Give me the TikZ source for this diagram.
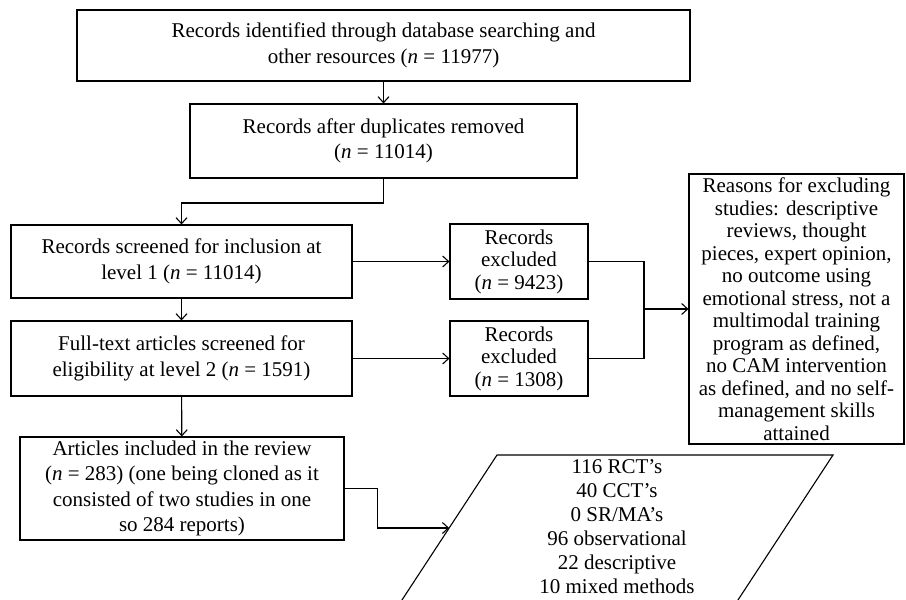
\documentclass[tikz,border=0pt]{standalone}
\usepackage{fontspec}
\setmainfont{Liberation Serif}
\usetikzlibrary{arrows.meta}

\begin{document}
\begin{tikzpicture}[x=1pt, y=-1pt,
  flowbox/.style={draw, line width=1.1pt, align=center, inner sep=0pt,
    font=\fontsize{21}{25.5}\selectfont},
  tightbox/.style={flowbox, font=\fontsize{21}{22.5}\selectfont},
  flowline/.style={line width=1.1pt, -{Straight Barb[length=6pt, width=11pt]}},
  plainline/.style={line width=1.1pt}]
  \useasboundingbox (0, 0) rectangle (906, 600);
  \clip (0, 0) rectangle (906, 600);

  % Identification
  \node[flowbox, minimum width=613pt, minimum height=71pt] (ident) at (383.5, 45.5)
    {Records identified through database searching and\\ other resources (\textit{n} = 11977)};
  \node[flowbox, minimum width=387pt, minimum height=74pt] (dup) at (383.5, 141)
    {Records after duplicates removed\\ (\textit{n} = 11014)};

  % Screening
  \node[flowbox, minimum width=341pt, minimum height=73pt] (scr) at (181.5, 261.5)
    {Records screened for inclusion at\\ level 1 (\textit{n} = 11014)};
  \node[flowbox, minimum width=341pt, minimum height=75pt] (full) at (181.5, 358.5)
    {Full-text articles screened for\\ eligibility at level 2 (\textit{n} = 1591)};

  % Exclusions
  \node[tightbox, minimum width=138pt, minimum height=75pt] (exa) at (519, 261.5)
    {Records\\ excluded\\ (\textit{n} = 9423)};
  \node[tightbox, minimum width=138pt, minimum height=75pt] (exb) at (519, 358.5)
    {Records\\ excluded\\ (\textit{n} = 1308)};
  \node[tightbox, minimum width=215pt, minimum height=270pt] (rsn) at (796.5, 309)
    {Reasons for excluding\\ studies: descriptive\\ reviews, thought\\
     pieces, expert opinion,\\ no outcome using\\ emotional stress, not a\\
     multimodal training\\ program as defined,\\ no CAM intervention\\
     as defined, and no self-\\ management skills\\ attained};

  % Included
  \node[flowbox, minimum width=324pt, minimum height=103pt] (inc) at (182, 488.5)
    {Articles included in the review\\ (\textit{n} = 283) (one being cloned as it\\
     consisted of two studies in one\\ so 284 reports)};

  % Study types
  \coordinate (tl) at (497, 455);
  \coordinate (tr) at (833, 455);
  \coordinate (br) at (730.1, 612);
  \coordinate (bl) at (394.1, 612);
  \draw[plainline] (bl) -- (tl) -- (tr) -- (br) -- cycle;
  \node[font=\fontsize{21}{24}\selectfont, align=center] (types) at (617, 527)
    {116 RCT’s\\ 40 CCT’s\\ 0 SR/MA’s\\ 96 observational\\ 22 descriptive\\ 10 mixed methods};
  \coordinate (typesin) at (449.2, 528);

  % Connectors
  \coordinate (bend) at (383.5, 203);
  \coordinate (merge) at (644, 309);
  \draw[flowline] (ident) -- (dup);
  \draw[flowline] (dup.south) -- (bend) -| (scr.north);
  \draw[flowline] (scr) -- (full);
  \draw[flowline] (scr) -- (exa);
  \draw[flowline] (full) -- (exb);
  \draw[plainline] (exa.east) -| (merge) |- (exb.east);
  \draw[flowline] (merge) -- (rsn.west);
  \draw[flowline] (full) -- (inc);
  \draw[flowline] (inc.east) -- ++(33, 0) |- (typesin);

\end{tikzpicture}
\end{document}
